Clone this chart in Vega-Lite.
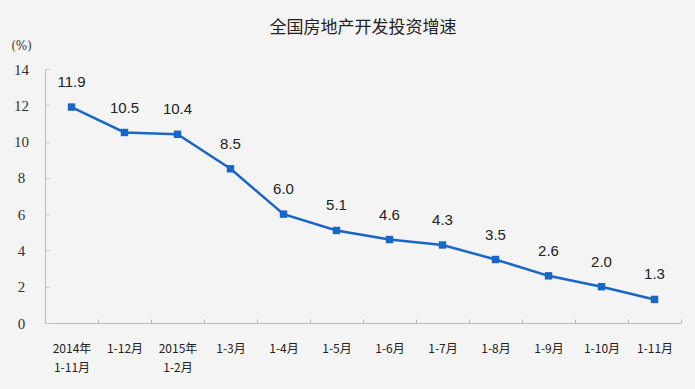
{
  "$schema": "https://vega.github.io/schema/vega-lite/v6.json",
  "width": 636,
  "height": 254,
  "autosize": {"type": "none"},
  "padding": {"left": 45, "top": 69, "right": 14, "bottom": 66},
  "background": "#f4f4f4",
  "config": {"view": {"stroke": null}},
  "title": {
    "text": "全国房地产开发投资增速",
    "font": "Noto Sans CJK SC",
    "fontSize": 17,
    "fontWeight": "normal",
    "color": "#222222",
    "anchor": "middle",
    "offset": 2
  },
  "data": {
    "values": [
      {"period": "2014年|1-11月", "value": 11.9},
      {"period": "1-12月", "value": 10.5},
      {"period": "2015年|1-2月", "value": 10.4},
      {"period": "1-3月", "value": 8.5},
      {"period": "1-4月", "value": 6.0},
      {"period": "1-5月", "value": 5.1},
      {"period": "1-6月", "value": 4.6},
      {"period": "1-7月", "value": 4.3},
      {"period": "1-8月", "value": 3.5},
      {"period": "1-9月", "value": 2.6},
      {"period": "1-10月", "value": 2.0},
      {"period": "1-11月", "value": 1.3}
    ]
  },
  "encoding": {
    "x": {
      "field": "period",
      "type": "nominal",
      "sort": null,
      "scale": {"paddingInner": 0, "paddingOuter": 0},
      "axis": {
        "title": null,
        "labelAngle": 0,
        "labelExpr": "split(datum.label, '|')",
        "labelFont": "Noto Sans CJK SC",
        "labelFontSize": 12,
        "labelColor": "#222222",
        "labelPadding": 29,
        "labelBaseline": "middle",
        "labelLineHeight": 19,
        "tickBand": "extent",
        "tickSize": -4,
        "tickColor": "#bbbbbb",
        "domainColor": "#bbbbbb",
        "grid": false
      }
    },
    "y": {
      "field": "value",
      "type": "quantitative",
      "scale": {"domain": [0, 14], "nice": false},
      "axis": {
        "title": "(%)",
        "titleAngle": 0,
        "titleX": -24,
        "titleY": -24,
        "titleAlign": "center",
        "titleBaseline": "middle",
        "titleFont": "DejaVu Serif",
        "titleFontSize": 12,
        "titleFontWeight": "normal",
        "titleColor": "#333333",
        "values": [0, 2, 4, 6, 8, 10, 12, 14],
        "labelFont": "Liberation Serif",
        "labelFontSize": 15,
        "labelColor": "#333333",
        "labelPadding": 28,
        "labelAlign": "center",
        "tickSize": -4,
        "tickColor": "#cccccc",
        "domainColor": "#bbbbbb",
        "grid": false
      }
    }
  },
  "layer": [
    {
      "mark": {"type": "line", "color": "#1a66c6", "strokeWidth": 2.5}
    },
    {
      "mark": {"type": "square", "color": "#1a66c6", "size": 55, "opacity": 1, "filled": true}
    },
    {
      "mark": {"type": "text", "dy": -25, "font": "Liberation Sans", "fontSize": 15, "color": "#222222"},
      "encoding": {"text": {"field": "value", "type": "quantitative", "format": ".1f"}}
    }
  ]
}
